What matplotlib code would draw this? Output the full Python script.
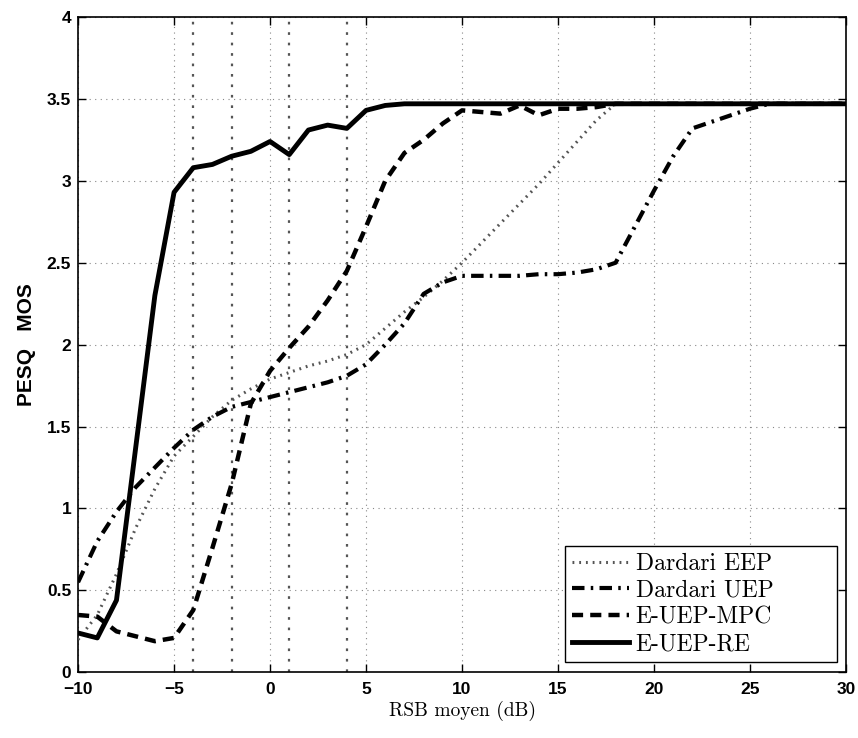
import matplotlib
matplotlib.use("Agg")
import matplotlib.pyplot as plt

# RSB values (dB)
snr = list(range(-10, 31))

# PESQ MOS
dardari_eep = [0.20, 0.35, 0.60, 0.88, 1.12, 1.32, 1.44, 1.56, 1.66, 1.73,
               1.79, 1.83, 1.87, 1.90, 1.94, 2.00, 2.10, 2.20, 2.29, 2.39,
               2.50, 2.62, 2.74, 2.86, 2.98, 3.11, 3.24, 3.37, 3.47, 3.47,
               3.47, 3.47, 3.47, 3.47, 3.47, 3.47, 3.47, 3.47, 3.47, 3.47, 3.47]
dardari_uep = [0.55, 0.80, 0.98, 1.13, 1.25, 1.37, 1.48, 1.56, 1.62, 1.65,
               1.68, 1.71, 1.74, 1.77, 1.81, 1.88, 2.00, 2.13, 2.31, 2.38,
               2.42, 2.42, 2.42, 2.42, 2.43, 2.43, 2.44, 2.46, 2.50, 2.72,
               2.94, 3.15, 3.32, 3.36, 3.40, 3.44, 3.47, 3.47, 3.47, 3.47, 3.47]
e_uep_mpc = [0.35, 0.34, 0.25, 0.22, 0.19, 0.21, 0.38, 0.76, 1.15, 1.64,
             1.84, 1.98, 2.11, 2.27, 2.45, 2.72, 3.00, 3.17, 3.25, 3.35,
             3.43, 3.42, 3.41, 3.46, 3.40, 3.44, 3.44, 3.45, 3.47, 3.47,
             3.47, 3.47, 3.47, 3.47, 3.47, 3.47, 3.47, 3.47, 3.47, 3.47, 3.47]
e_uep_re = [0.24, 0.21, 0.44, 1.37, 2.30, 2.93, 3.08, 3.10, 3.15, 3.18,
            3.24, 3.16, 3.31, 3.34, 3.32, 3.43, 3.46, 3.47, 3.47, 3.47,
            3.47, 3.47, 3.47, 3.47, 3.47, 3.47, 3.47, 3.47, 3.47, 3.47,
            3.47, 3.47, 3.47, 3.47, 3.47, 3.47, 3.47, 3.47, 3.47, 3.47, 3.47]

# extra vertical markers
marks = [-4, -2, 1, 4]

fig = plt.figure(figsize=(8.58, 7.38), dpi=100)
ax = fig.add_axes([0.091, 0.089, 0.895, 0.888])

for m in marks:
    ax.axvline(m, color="#555555", lw=1.6, ls=(0, (1.2, 3.5)), zorder=1)

ax.plot(snr, dardari_eep, color="#555555", lw=2.2, ls=(0, (0.6, 1.6)),
        dash_capstyle="butt", label="Dardari EEP", zorder=3)
ax.plot(snr, dardari_uep, color="black", lw=3, ls=(0, (3, 1.5, 0.6, 1.5)),
        dash_capstyle="butt", label="Dardari UEP", zorder=3)
ax.plot(snr, e_uep_mpc, color="black", lw=3.2, ls=(0, (2.5, 1.6)),
        dash_capstyle="butt", label="E-UEP-MPC", zorder=3)
ax.plot(snr, e_uep_re, color="black", lw=3.5, label="E-UEP-RE", zorder=4)

ax.set_xlim(-10, 30)
ax.set_ylim(0, 4)
ax.set_xticks(range(-10, 31, 5))
ax.set_yticks([0, 0.5, 1, 1.5, 2, 2.5, 3, 3.5, 4])
ax.set_yticklabels(["0", "0.5", "1", "1.5", "2", "2.5", "3", "3.5", "4"])
ax.set_xticklabels(["\u221210", "\u22125", "0", "5", "10", "15", "20", "25", "30"])
ax.grid(True, color="#888888", lw=0.8, ls=(0, (1, 4)))
ax.tick_params(direction="in", length=6, width=1, top=True, right=True)
ax.tick_params(axis="x", pad=7)
ax.tick_params(axis="y", pad=5)
for lab in ax.get_xticklabels() + ax.get_yticklabels():
    lab.set_fontweight("bold")
    lab.set_fontsize(12.5)
    lab.set_fontfamily("Liberation Sans")
for s in ax.spines.values():
    s.set_linewidth(1.2)

ax.set_xlabel("RSB moyen (dB)", fontsize=14, fontfamily="cmr10", labelpad=3)
ax.set_ylabel("PESQ   MOS", fontsize=15, fontweight="bold",
              fontfamily="Liberation Sans", labelpad=8)

leg = ax.legend(loc="lower left", bbox_to_anchor=(0.634, 0.015, 0.354, 0.18),
                mode="expand", prop={"family": "cmr10", "size": 17},
                handlelength=2.4, handletextpad=0.3, labelspacing=0.2,
                borderpad=0.3, fancybox=False, edgecolor="black",
                framealpha=1, borderaxespad=0)
leg.get_frame().set_linewidth(1.0)

fig.savefig("out.png", dpi=100)
